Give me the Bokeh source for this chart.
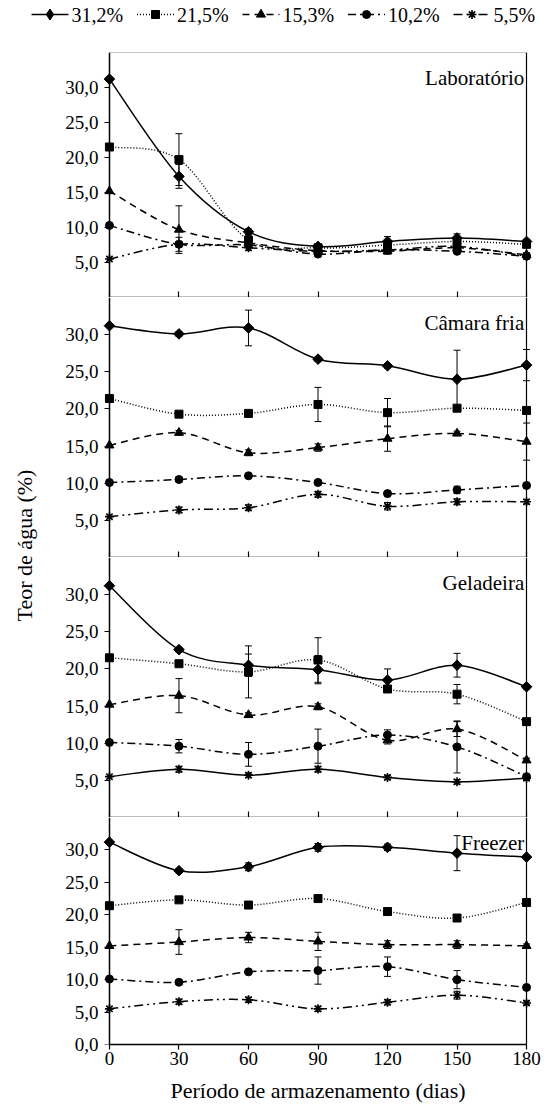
import math
from bokeh.plotting import figure
from bokeh.models import (Range1d, LinearAxis, FixedTicker, Label, ColumnDataSource,
                          Whisker, TeeHead)
from bokeh.core.properties import value
from bokeh.layouts import column, row
from bokeh.embed import file_html
from bokeh.resources import INLINE

# ---------------- data ----------------
days = [0, 30, 60, 90, 120, 150, 180]
series_labels = ["31,2%", "21,5%", "15,3%", "10,2%", "5,5%"]
panel_names = ["Laboratório", "Câmara fria", "Geladeira", "Freezer"]
y_tick_values = [0, 5, 10, 15, 20, 25, 30]
y_tick_labels = ["0,0", "5,0", "10,0", "15,0", "20,0", "25,0", "30,0"]
x_tick_labels = ["0", "30", "60", "90", "120", "150", "180"]
y_axis_title = "Teor de água (%)"
x_axis_title = "Período de armazenamento (dias)"

lab_values = [
    [31.2, 17.3, 9.4, 7.3, 8.0, 8.5, 8.0],
    [21.5, 19.7, 8.2, 7.1, 7.5, 8.0, 7.6],
    [15.2, 9.7, 7.8, 6.7, 6.6, 7.1, 6.1],
    [10.3, 7.6, 7.5, 6.2, 6.8, 6.6, 5.9],
    [5.5, 7.6, 7.1, 6.6, 6.8, 7.3, 5.9],
]
lab_errors = [
    [0, 1.7, 0.4, 0.3, 0.7, 0.6, 0.3],
    [0, 3.7, 0.6, 0.3, 0.3, 0.5, 0.3],
    [0, 3.4, 0.5, 0.3, 0.4, 0.4, 0.3],
    [0, 0.3, 0.3, 0.3, 0.3, 0.3, 0.3],
    [0, 1.0, 0.4, 0.3, 0.3, 0.3, 0.3],
]
camara_values = [
    [31.2, 30.1, 30.9, 26.7, 25.8, 24.0, 25.9],
    [21.4, 19.3, 19.4, 20.6, 19.5, 20.1, 19.8],
    [15.1, 16.8, 14.1, 14.8, 16.0, 16.7, 15.6],
    [10.1, 10.5, 11.0, 10.1, 8.6, 9.1, 9.7],
    [5.5, 6.4, 6.7, 8.5, 6.9, 7.5, 7.5],
]
camara_errors = [
    [0, 0.3, 2.4, 0.3, 0.3, 3.9, 2.1],
    [0, 0.3, 0.3, 2.3, 1.9, 0.3, 0.3],
    [0, 0.3, 0.4, 0.5, 1.7, 0.3, 2.5],
    [0, 0.3, 0.3, 0.3, 0.3, 0.5, 0.3],
    [0, 0.4, 0.4, 0.4, 0.5, 0.4, 0.3],
]
geladeira_values = [
    [31.2, 22.6, 20.5, 19.9, 18.5, 20.5, 17.6],
    [21.5, 20.7, 19.6, 21.2, 17.3, 16.6, 12.9],
    [15.2, 16.4, 13.8, 14.9, 10.4, 11.9, 7.7],
    [10.1, 9.6, 8.5, 9.6, 11.1, 9.5, 5.5],
    [5.5, 6.5, 5.7, 6.5, 5.4, 4.8, 5.3],
]
geladeira_errors = [
    [0, 0.3, 1.5, 1.9, 1.5, 1.6, 0.3],
    [0, 0.3, 3.5, 3.0, 0.3, 1.3, 0.3],
    [0, 2.3, 0.3, 0.4, 0.5, 1.0, 0.3],
    [0, 0.9, 1.6, 2.3, 0.7, 3.5, 0.3],
    [0, 0.4, 0.3, 0.4, 0.3, 0.3, 0.3],
]
freezer_values = [
    [31.2, 26.8, 27.4, 30.4, 30.4, 29.5, 28.9],
    [21.4, 22.3, 21.5, 22.5, 20.5, 19.5, 21.9],
    [15.2, 15.8, 16.5, 15.9, 15.4, 15.4, 15.2],
    [10.1, 9.6, 11.2, 11.4, 12.0, 10.0, 8.8],
    [5.5, 6.6, 6.9, 5.5, 6.5, 7.6, 6.4],
]
freezer_errors = [
    [0, 0.3, 0.6, 0.6, 0.5, 2.7, 0.3],
    [0, 0.3, 0.3, 0.4, 0.3, 0.4, 0.3],
    [0, 1.9, 0.8, 1.4, 0.6, 0.6, 0.3],
    [0, 0.3, 0.3, 2.1, 1.5, 1.4, 0.3],
    [0, 0.4, 0.4, 0.4, 0.4, 0.6, 0.3],
]

# ---------------- styles ----------------
FONT = "Liberation Serif"
DASH = ["solid", "1 2", "7 5", "8 4 2 4", "9 4 2 4 2 4"]
panel_dashes = [DASH, DASH, DASH[:4] + ["solid"], DASH]
MARKERS = ["square", "square", "triangle", "circle", "asterisk"]
ANGLES = [math.pi / 4, 0, 0, 0, 0]
SIZES = [7.5, 8, 9, 8, 9]
FRAME_H = [245, 260, 260, 227]
TOP_H = 52
BOTTOM_BORDER = 64
YL_W = 40
PANEL_W = 501
BORDER_L = 62
BORDER_R = 8
# legend layout (pixels inside the legend strip)
LEG_X0 = 31
LEG_PITCH = 105.5
LEG_GLYPH_W = 37
LEG_LABEL_GAP = 40
LEG_CY = TOP_H - 14


def bezier_source(xs, ys):
    n = len(xs)
    d = {k: [] for k in ("x0", "y0", "x1", "y1", "cx0", "cy0", "cx1", "cy1")}
    for i in range(n - 1):
        a = max(i - 1, 0)
        b = min(i + 2, n - 1)
        d["x0"].append(xs[i]); d["y0"].append(ys[i])
        d["x1"].append(xs[i + 1]); d["y1"].append(ys[i + 1])
        d["cx0"].append(xs[i] + (xs[i + 1] - xs[a]) / 6.0)
        d["cy0"].append(ys[i] + (ys[i + 1] - ys[a]) / 6.0)
        d["cx1"].append(xs[i + 1] - (xs[b] - xs[i]) / 6.0)
        d["cy1"].append(ys[i + 1] - (ys[b] - ys[i]) / 6.0)
    return ColumnDataSource(d)


def make_panel(k, name, values, errors):
    bottom = (k == 3)
    fh = FRAME_H[k]
    p = figure(width=PANEL_W, height=fh + (BOTTOM_BORDER if bottom else 0),
               x_range=Range1d(-3, 183), y_range=Range1d(0, 35),
               x_axis_type=None, y_axis_type=None,
               output_backend="svg", toolbar_location=None,
               min_border_left=BORDER_L, min_border_right=BORDER_R,
               min_border_top=0, min_border_bottom=(BOTTOM_BORDER if bottom else 0))
    p.outline_line_color = None
    p.background_fill_color = "white"
    p.border_fill_color = "white"

    # y tick labels (normal side axis, no line / ticks)
    ylab = dict(zip(y_tick_values, y_tick_labels))
    if not bottom:
        ylab[0] = ""
    ylabels = LinearAxis(ticker=FixedTicker(ticks=y_tick_values),
                         axis_line_color=None, major_tick_line_color=None,
                         major_tick_out=0, major_tick_in=0,
                         major_label_overrides=ylab, major_label_standoff=4,
                         major_label_text_font=FONT, major_label_text_font_size="19px",
                         major_label_text_color="black")
    p.add_layout(ylabels, "left")
    # y axis line + ticks at day 0
    yax = LinearAxis(ticker=FixedTicker(ticks=y_tick_values), fixed_location=0,
                     bounds=(0, 35), major_tick_out=5, major_tick_in=0,
                     major_label_text_color=None,
                     axis_line_width=1.5, major_tick_line_width=1.2)
    p.add_layout(yax, "left")

    # x axis
    if bottom:
        xax = LinearAxis(ticker=FixedTicker(ticks=days), bounds=(0, 180),
                         major_tick_out=5, major_tick_in=0,
                         major_label_overrides=dict(zip(days, x_tick_labels)),
                         major_label_standoff=2,
                         major_label_text_font=FONT, major_label_text_font_size="19px",
                         major_label_text_color="black",
                         axis_label=x_axis_title, axis_label_standoff=10,
                         axis_label_text_font=FONT, axis_label_text_font_size="22px",
                         axis_label_text_font_style="normal",
                         axis_label_text_color="black",
                         axis_line_width=1.5, major_tick_line_width=1.2)
    else:
        xax = LinearAxis(ticker=FixedTicker(ticks=days), bounds=(0, 180),
                         fixed_location=0, major_tick_out=0, major_tick_in=6,
                         major_label_text_color=None,
                         axis_line_width=1.5, major_tick_line_width=1.2)
    p.add_layout(xax, "below")

    # right border line
    rax = LinearAxis(ticker=FixedTicker(ticks=[]), fixed_location=180, bounds=(0, 35),
                     major_tick_line_color=None, minor_tick_line_color=None,
                     major_label_text_color=None, axis_line_width=1.2)
    p.add_layout(rax, "right")
    if k == 0:
        tax = LinearAxis(ticker=FixedTicker(ticks=[]), fixed_location=35, bounds=(0, 180),
                         major_tick_line_color=None, minor_tick_line_color=None,
                         major_label_text_color=None, axis_line_color="#8c8c8c",
                         axis_line_width=1)
        p.add_layout(tax, "above")

    dashes = panel_dashes[k]
    for i in range(len(series_labels)):
        ys = values[i]
        es = errors[i]
        p.bezier(x0="x0", y0="y0", x1="x1", y1="y1", cx0="cx0", cy0="cy0",
                 cx1="cx1", cy1="cy1", source=bezier_source(days, ys),
                 line_color="black", line_width=1.5, line_dash=dashes[i])
        eb = [(d, v, e) for d, v, e in zip(days, ys, es) if e > 0]
        wsrc = ColumnDataSource(dict(base=[t[0] for t in eb],
                                     upper=[t[1] + t[2] for t in eb],
                                     lower=[t[1] - t[2] for t in eb]))
        w = Whisker(source=wsrc, base="base", upper="upper", lower="lower",
                    line_color="black", line_width=1,
                    upper_head=TeeHead(size=7, line_color="black", line_width=1),
                    lower_head=TeeHead(size=7, line_color="black", line_width=1))
        p.add_layout(w)
        p.scatter(x=days, y=ys, marker=MARKERS[i], angle=ANGLES[i], size=SIZES[i],
                  fill_color="black", line_color="black",
                  line_width=(1.6 if MARKERS[i] == "asterisk" else 1))

    p.add_layout(Label(x=179, y=fh - 25, x_units="data", y_units="screen", text=name,
                       text_align="right", text_baseline="alphabetic",
                       text_font=FONT, text_font_size="21px", text_color="black"))
    return p


panels = [
    make_panel(0, panel_names[0], lab_values, lab_errors),
    make_panel(1, panel_names[1], camara_values, camara_errors),
    make_panel(2, panel_names[2], geladeira_values, geladeira_errors),
    make_panel(3, panel_names[3], freezer_values, freezer_errors),
]

total_h = sum(FRAME_H) + BOTTOM_BORDER

# y-axis title column
yl = figure(width=YL_W, height=total_h, x_axis_type=None, y_axis_type=None,
            x_range=Range1d(0, 1), y_range=Range1d(0, 1),
            output_backend="svg", toolbar_location=None, min_border=0)
yl.outline_line_color = None
yl.add_layout(Label(x=24, y=total_h - (545 - TOP_H), x_units="screen", y_units="screen",
                    text=y_axis_title, angle=math.pi / 2, text_align="center",
                    text_baseline="middle", text_font=FONT, text_font_size="22px",
                    text_color="black"))

# legend strip (pixel coordinates)
LF_W = 545
lf = figure(width=LF_W, height=TOP_H, x_axis_type=None, y_axis_type=None,
            x_range=Range1d(0, LF_W), y_range=Range1d(0, TOP_H),
            output_backend="svg", toolbar_location=None, min_border=0)
lf.outline_line_color = None
lf.background_fill_color = "white"
leg_marker = ["diamond", "square", "triangle", "circle", "asterisk"]
leg_size = [11, 8, 9, 8, 9]
for i, lbl in enumerate(series_labels):
    gx0 = LEG_X0 + i * LEG_PITCH
    gx1 = gx0 + LEG_GLYPH_W
    lf.segment(x0=[gx0], y0=[LEG_CY], x1=[gx1], y1=[LEG_CY], line_color="black",
               line_width=1.5, line_dash=DASH[i])
    lf.scatter(x=[(gx0 + gx1) / 2], y=[LEG_CY], marker=leg_marker[i], size=leg_size[i],
               fill_color="black", line_color="black",
               line_width=(1.6 if leg_marker[i] == "asterisk" else 1))
    lf.text(x=[gx0 + LEG_LABEL_GAP], y=[LEG_CY], text=[lbl], text_font=value(FONT),
            text_font_size="20px", text_baseline="middle", text_align="left",
            text_color="black")

layout = column(lf, row(yl, column(*panels)))

open("out.html", "w").write(file_html(layout, INLINE, title="Teor de água"))
